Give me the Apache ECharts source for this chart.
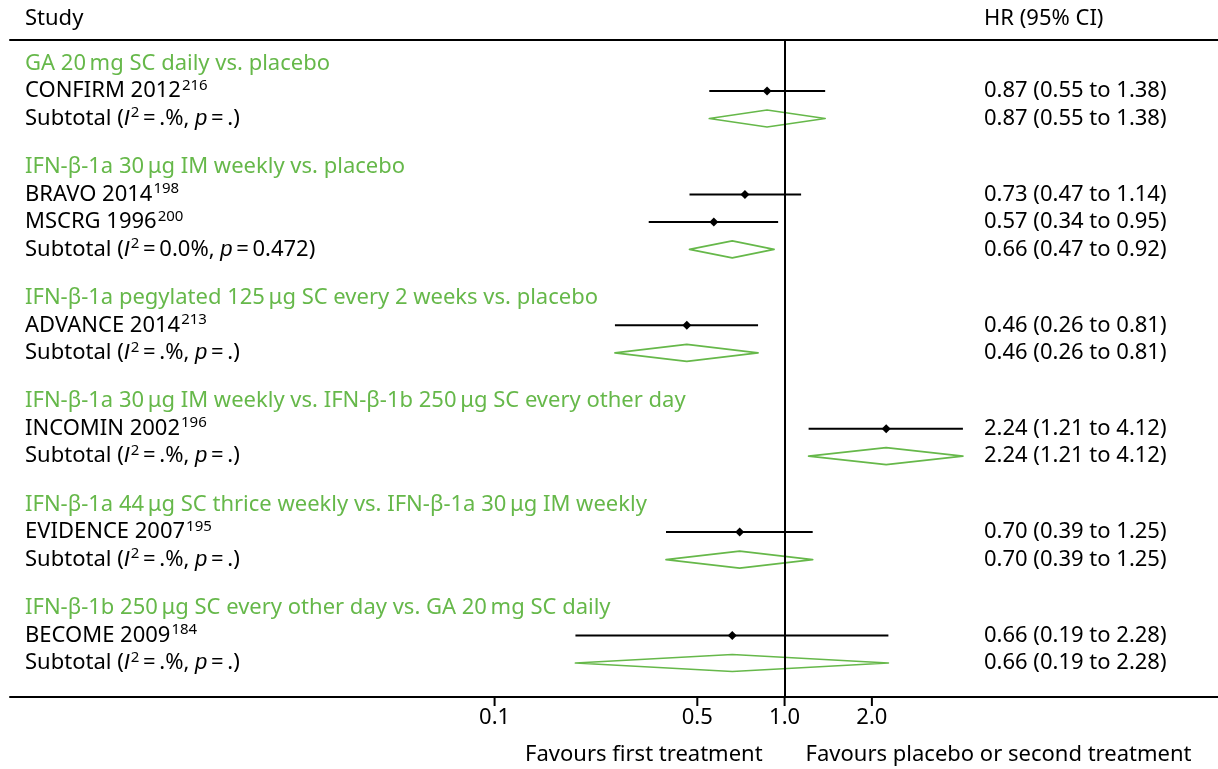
<!DOCTYPE html>
<html>
<head>
<meta charset="utf-8">
<title>Forest plot – hazard ratios</title>
<script src="https://cdn.jsdelivr.net/npm/echarts@6/dist/echarts.min.js"></script>
<style>
  html, body { margin: 0; padding: 0; background: #fff; }
  #chart { width: 1218px; height: 769px; }
</style>
</head>
<body>
<div id="chart"></div>
<script>
// ---- data ----
const groupTitles = [
  'GA 20\u2009mg SC daily vs. placebo',
  'IFN-\u03b2-1a 30\u2009\u03bcg IM weekly vs. placebo',
  'IFN-\u03b2-1a pegylated 125\u2009\u03bcg SC every 2 weeks vs. placebo',
  'IFN-\u03b2-1a 30\u2009\u03bcg IM weekly vs. IFN-\u03b2-1b 250\u2009\u03bcg SC every other day',
  'IFN-\u03b2-1a 44\u2009\u03bcg SC thrice weekly vs. IFN-\u03b2-1a 30\u2009\u03bcg IM weekly',
  'IFN-\u03b2-1b 250\u2009\u03bcg SC every other day vs. GA 20\u2009mg SC daily'
];
const studyNames = ['CONFIRM 2012', 'BRAVO 2014', 'MSCRG 1996', 'ADVANCE 2014', 'INCOMIN 2002', 'EVIDENCE 2007', 'BECOME 2009'];
const studyRefs  = ['216', '198', '200', '213', '196', '195', '184'];
const studyGroup = [0, 1, 1, 2, 3, 4, 5];
const studyHR    = [0.87, 0.73, 0.57, 0.46, 2.24, 0.70, 0.66];
const studyLow   = [0.55, 0.47, 0.34, 0.26, 1.21, 0.39, 0.19];
const studyHigh  = [1.38, 1.14, 0.95, 0.81, 4.12, 1.25, 2.28];

const subtotalHR   = [0.87, 0.66, 0.46, 2.24, 0.70, 0.66];
const subtotalLow  = [0.55, 0.47, 0.26, 1.21, 0.39, 0.19];
const subtotalHigh = [1.38, 0.92, 0.81, 4.12, 1.25, 2.28];
const subtotalI2   = ['.', '0.0', '.', '.', '.', '.'];
const subtotalP    = ['.', '0.472', '.', '.', '.', '.'];

const tickValues = [0.1, 0.5, 1.0, 2.0];
const tickLabels = ['0.1', '0.5', '1.0', '2.0'];

const headerLeft = 'Study';
const headerRight = 'HR (95% CI)';
const footerLeft = 'Favours first treatment';
const footerRight = 'Favours placebo or second treatment';

// ---- styling / layout ----
const FONT = 'Noto Sans';
const ITALIC_FONT = 'Liberation Sans';
const FS = 22;
const GREEN = '#66b84a';
const BLACK = '#000000';
const LEFT_X = 25;
const RIGHT_X = 984;
const GROUP_GAP = 0.76;          // extra blank space between groups, in rows
const X_MIN = -2.671, X_MAX = 1.4945;
const Y_MIN = -0.8545, Y_MAX = 23.036;
const TICK_LEN = 9;

const lg = v => Math.log10(v);
const fmt2 = v => v.toFixed(2);
const ciText = (hr, lo, hi) => `${fmt2(hr)} (${fmt2(lo)} to ${fmt2(hi)})`;

// Build the list of rows: header, studies, subtotal for every group
const rows = [];
let idx = 0;
groupTitles.forEach((title, g) => {
  rows.push({ type: 'header', g, pos: idx + GROUP_GAP * g }); idx++;
  studyGroup.forEach((sg, s) => {
    if (sg === g) { rows.push({ type: 'study', g, s, pos: idx + GROUP_GAP * g }); idx++; }
  });
  rows.push({ type: 'subtotal', g, pos: idx + GROUP_GAP * g }); idx++;
});

const rich = {
  n:   { fontFamily: FONT, fontSize: FS, fill: BLACK, color: BLACK, lineHeight: 26 },
  i:   { fontFamily: ITALIC_FONT, fontSize: FS, fill: BLACK, color: BLACK, lineHeight: 26, fontStyle: 'italic' },
  g:   { fontFamily: FONT, fontSize: FS, fill: GREEN, color: GREEN, lineHeight: 26 },
  sup: { fontFamily: FONT, fontSize: 15, fill: BLACK, color: BLACK, lineHeight: 16, verticalAlign: 'top', padding: [0, 0, 0, 1] }
};

function leftText(r) {
  if (r.type === 'header') return `{g|${groupTitles[r.g]}}`;
  if (r.type === 'study') return `{n|${studyNames[r.s]}}{sup|${studyRefs[r.s]}}`;
  return `{n|Subtotal (}{i|I}{sup|2}{n|\u2009=\u2009${subtotalI2[r.g]}%, }{i|p}{n|\u2009=\u2009${subtotalP[r.g]})}`;
}
function rightText(r) {
  if (r.type === 'study') return `{n|${ciText(studyHR[r.s], studyLow[r.s], studyHigh[r.s])}}`;
  if (r.type === 'subtotal') return `{n|${ciText(subtotalHR[r.g], subtotalLow[r.g], subtotalHigh[r.g])}}`;
  return '';
}

const studyRows = rows.filter(r => r.type === 'study');
const subRows = rows.filter(r => r.type === 'subtotal');

const chart = echarts.init(document.getElementById('chart'), null, { renderer: 'canvas' });

const option = {
  backgroundColor: '#ffffff',
  animation: false,
  grid: { left: 10, right: 0, top: 40, bottom: 72, containLabel: false },
  xAxis: [
    {
      type: 'value', position: 'bottom', min: X_MIN, max: X_MAX,
      axisLine: { show: true, onZero: false, lineStyle: { color: BLACK, width: 2 } },
      axisTick: { show: false },
      axisLabel: {
        show: true, customValues: tickValues.map(lg), margin: 10,
        fontFamily: FONT, fontSize: FS, color: BLACK,
        formatter: v => {
          const k = tickValues.findIndex(t => Math.abs(lg(t) - v) < 1e-6);
          return k >= 0 ? tickLabels[k] : '';
        }
      },
      splitLine: { show: false }
    },
    {
      type: 'value', position: 'top', min: X_MIN, max: X_MAX,
      axisLine: { show: true, onZero: false, lineStyle: { color: BLACK, width: 2 } },
      axisTick: { show: false }, axisLabel: { show: false }, splitLine: { show: false }
    }
  ],
  yAxis: {
    type: 'value', inverse: true, min: Y_MIN, max: Y_MAX, show: false
  },
  series: [
    // study estimates: CI line with a small diamond at the point estimate
    {
      type: 'custom', name: 'studies', xAxisIndex: 0,
      data: studyRows.map(r => [lg(studyLow[r.s]), lg(studyHigh[r.s]), lg(studyHR[r.s]), r.pos]),
      encode: { x: [0, 1, 2], y: 3 },
      renderItem: (params, api) => {
        const a = api.coord([api.value(0), api.value(3)]);
        const b = api.coord([api.value(1), api.value(3)]);
        const c = api.coord([api.value(2), api.value(3)]);
        const d = 4.5;
        return {
          type: 'group',
          children: [
            { type: 'line', shape: { x1: a[0], y1: a[1], x2: b[0], y2: b[1] }, style: { stroke: BLACK, lineWidth: 2 } },
            { type: 'polygon', shape: { points: [[c[0] - d, c[1]], [c[0], c[1] - d], [c[0] + d, c[1]], [c[0], c[1] + d]] }, style: { fill: BLACK } }
          ]
        };
      },
      markLine: {
        silent: true, symbol: ['none', 'none'], label: { show: false },
        lineStyle: { color: BLACK, width: 2, type: 'solid' },
        data: [{ xAxis: lg(1) }]
      },
      z: 3
    },
    // subtotals: open green diamonds
    {
      type: 'custom', name: 'subtotals', xAxisIndex: 0,
      data: subRows.map(r => [lg(subtotalLow[r.g]), lg(subtotalHigh[r.g]), lg(subtotalHR[r.g]), r.pos]),
      encode: { x: [0, 1, 2], y: 3 },
      renderItem: (params, api) => {
        const a = api.coord([api.value(0), api.value(3)]);
        const b = api.coord([api.value(1), api.value(3)]);
        const c = api.coord([api.value(2), api.value(3)]);
        const h = 8.5;
        return {
          type: 'polygon',
          shape: { points: [[a[0], a[1]], [c[0], c[1] - h], [b[0], b[1]], [c[0], c[1] + h]] },
          style: { fill: 'none', stroke: GREEN, lineWidth: 1.7, lineJoin: 'round' }
        };
      },
      z: 4
    },
    // row texts: labels on the left, estimates on the right
    {
      type: 'custom', name: 'labels', xAxisIndex: 0,
      data: rows.map(r => [0, r.pos]),
      encode: { x: 0, y: 1 },
      renderItem: (params, api) => {
        const r = rows[params.dataIndex];
        const y = api.coord([0, api.value(1)])[1];
        const children = [{
          type: 'text',
          style: { x: LEFT_X, y, text: leftText(r), rich, align: 'left', verticalAlign: 'middle', textAlign: 'left', textVerticalAlign: 'middle' }
        }];
        const rt = rightText(r);
        if (rt) {
          children.push({
            type: 'text',
            style: { x: RIGHT_X, y, text: rt, rich, align: 'left', verticalAlign: 'middle', textAlign: 'left', textVerticalAlign: 'middle' }
          });
        }
        return { type: 'group', children };
      },
      z: 5
    }
  ]
};

chart.setOption(option);

// axis ticks below the bottom line, column headers and the direction captions
const tickMarks = tickValues.map(v => {
  const p = chart.convertToPixel({ xAxisIndex: 0, yAxisIndex: 0 }, [lg(v), Y_MAX]);
  return {
    type: 'rect', z: 100,
    shape: { x: p[0] - 1, y: p[1], width: 2, height: TICK_LEN },
    style: { fill: BLACK }
  };
});
const x1 = chart.convertToPixel({ xAxisIndex: 0 }, lg(1));
const txt = (text, x, y, align) => ({
  type: 'text', x, y,
  style: { text, fill: BLACK, font: `${FS}px "${FONT}"`, align, verticalAlign: 'middle', textAlign: align, textVerticalAlign: 'middle' }
});
chart.setOption({
  graphic: [
    ...tickMarks,
    txt(headerLeft, LEFT_X, 19, 'left'),
    txt(headerRight, RIGHT_X, 19, 'left'),
    txt(footerLeft, x1 - 22, 755, 'right'),
    txt(footerRight, x1 + 21, 755, 'left')
  ]
});
</script>
</body>
</html>
